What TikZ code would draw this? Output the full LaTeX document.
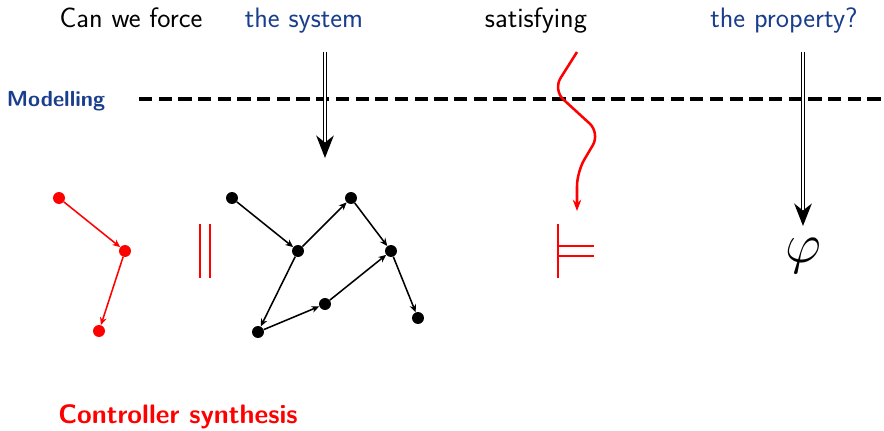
\documentclass[tikz,border=0pt]{standalone}
\usetikzlibrary{arrows.meta}
\definecolor{navy}{RGB}{25,62,140}
\begin{document}
\begin{tikzpicture}[
  x=0.025cm, y=-0.025cm, >={Stealth[length=5.5pt,width=4.8pt]},
  font=\sffamily\fontsize{20}{24}\selectfont,
  ask/.style={anchor=base, inner sep=0pt},
  dot/.style={circle, fill=black, inner sep=0pt, minimum size=8.5pt},
  rdot/.style={dot, fill=red},
  edge/.style={->, line width=1.1pt},
  redge/.style={edge, red},
  imply/.style={double, double distance=1.5pt, line width=1pt,
    -{Stealth[length=16pt,width=12.5pt,inset=5pt]}},
  bar/.style={red, line width=1.2pt},
  modline/.style={line width=2.8pt, dash pattern=on 9.4pt off 4.6pt}
]
  \useasboundingbox (0,0) rectangle (884,430);

  %% ============================================ the question on top
  \node[ask] (force) at (131,27) {Can we force};
  \node[ask, text=navy] (sys) at (304,27) {the system};
  \node[ask] (sat) at (536,27) {satisfying};
  \node[ask, text=navy] (prop) at (784,27) {the property?};

  %% ------------------------------------------------ modelling line
  \node[ask, text=navy, font=\sffamily\bfseries\fontsize{15.5}{18}\selectfont]
    (model) at (56,106) {Modelling};
  \coordinate (mleft) at (139,99);
  \coordinate (mright) at (884,99);
  \draw[modline] (mleft) -- (mright);

  %% ------------------------------------------------ the plant
  \node[dot] (a) at (232,198) {};
  \node[dot] (b) at (298,251) {};
  \node[dot] (c) at (351,198) {};
  \node[dot] (d) at (391,251) {};
  \node[dot] (e) at (325,304) {};
  \node[dot] (f) at (258,332) {};
  \node[dot] (g) at (418,318) {};
  \foreach \u/\v in {a/b, b/c, c/d, b/f, f/e, e/d, d/g}
    \draw[edge] (\u) -- (\v);

  \coordinate (s1) at (325,52);
  \coordinate (s2) at (325,158);
  \draw[imply] (s1) -- (s2);

  %% ------------------------------------------------ the controller
  \node[rdot] (r1) at (59,198) {};
  \node[rdot] (r2) at (125,251) {};
  \node[rdot] (r3) at (99,331) {};
  \draw[redge] (r1) -- (r2);
  \draw[redge] (r2) -- (r3);

  % parallel composition
  \draw[bar] (200,224) -- (200,278);
  \draw[bar] (210,224) -- (210,278);

  \node[ask, text=red, font=\sffamily\bfseries\fontsize{19}{23}\selectfont]
    (synth) at (178,423) {Controller synthesis};

  %% ------------------------------------------------ satisfaction
  \coordinate (w0) at (577,52);
  \coordinate (w4) at (577,211);
  \draw[red, line width=1.8pt, rounded corners=10pt,
    -{Stealth[length=8pt,width=6pt]}]
    (w0) -- (553,90) -- (600,133) -- (577,172) -- (w4);

  \draw[red, line width=1.6pt] (558,224) -- (558,278)
    (558,246) -- (594,246) (558,256) -- (594,256);

  %% ------------------------------------------------ the property
  \node[font=\fontsize{24.88}{30}\selectfont, scale=1.6, inner sep=0pt]
    (phi) at (803,256) {$\varphi$};
  \coordinate (p1) at (803,52);
  \coordinate (p2) at (803,226);
  \draw[imply] (p1) -- (p2);

\end{tikzpicture}
\end{document}
